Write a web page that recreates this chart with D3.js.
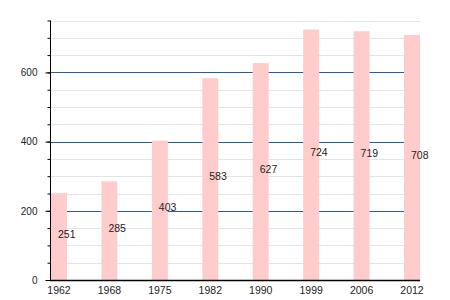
<!DOCTYPE html>
<html><head><meta charset="utf-8">
<script src="https://cdn.jsdelivr.net/npm/d3@7"></script>
<style>body{margin:0;background:#fff}text{font-family:"Liberation Sans",Arial,sans-serif}</style>
</head><body><svg id="c" width="450" height="300"></svg>
<script>
const years = ["1962","1968","1975","1982","1990","1999","2006","2012"];
const population = [251,285,403,583,627,724,719,708];
const yMajorTicks = [0,200,400,600];
const yMinorTicks = d3.range(0,751,50);

(function(){
const svg = d3.select("#c");
const mLeft = 50, mRight = 420, mTop = 20.5, mBottom = 280;
const x = d3.scaleBand().domain(years).range([mLeft+1, mRight]).paddingInner(0.683).paddingOuter(0);
const y = d3.scaleLinear().domain([0,750]).range([mBottom, mTop]);

// minor gridlines
svg.append("g").selectAll("line").data(yMinorTicks.filter(v=>v%200!==0 && v>0)).join("line")
  .attr("x1",mLeft).attr("x2",mRight).attr("y1",d=>Math.round(y(d))+0.5).attr("y2",d=>Math.round(y(d))+0.5)
  .attr("stroke","#e4e4e4").attr("stroke-width",1);
// major gridlines
svg.append("g").selectAll("line").data(yMajorTicks.filter(v=>v>0)).join("line")
  .attr("x1",mLeft).attr("x2",mRight).attr("y1",d=>Math.round(y(d))+0.5).attr("y2",d=>Math.round(y(d))+0.5)
  .attr("stroke","#20609f").attr("stroke-width",1);

// bars
svg.append("g").selectAll("rect").data(population).join("rect")
  .attr("x",(d,i)=>x(years[i])).attr("width",x.bandwidth())
  .attr("y",d=>y(d)).attr("height",d=>mBottom-y(d))
  .attr("fill","#ffcccc");

// value labels
svg.append("g").selectAll("text").data(population).join("text")
  .attr("x",(d,i)=>x(years[i])+x.bandwidth()/2-1).attr("y",d=>y(d/2)+1)
  .attr("font-size",10.5).attr("fill","#222").text(d=>d);

// y axis minor ticks
const yAxisMinor = d3.axisLeft(y).tickValues(yMinorTicks).tickSize(3).tickFormat("");
const gm = svg.append("g").attr("transform",`translate(${mLeft+0.5},0)`).call(yAxisMinor);
gm.select(".domain").remove();
const yAxis = d3.axisLeft(y).tickValues(yMajorTicks).tickSize(5).tickSizeOuter(0).tickPadding(8);
const gy = svg.append("g").attr("transform",`translate(${mLeft+0.5},0)`).call(yAxis);
gy.select(".domain").attr("d",`M0,${mTop}V${mBottom}`).attr("stroke","#000");
gy.selectAll("text").attr("font-size",10).attr("font-family","Liberation Sans, Arial").attr("fill","#222");
svg.selectAll(".tick line").attr("stroke","#000");

// x axis
const xAxis = d3.axisBottom(x).tickSize(0).tickPadding(6);
const gx = svg.append("g").attr("transform",`translate(0,${mBottom+0.5})`).call(xAxis);
gx.select(".domain").attr("d",`M${mLeft},0H${mRight}`).attr("stroke","#000").attr("stroke-width",1.3);
gx.selectAll("text").attr("font-size",10.5).attr("font-family","Liberation Sans, Arial").attr("fill","#222");
})();
</script></body></html>
